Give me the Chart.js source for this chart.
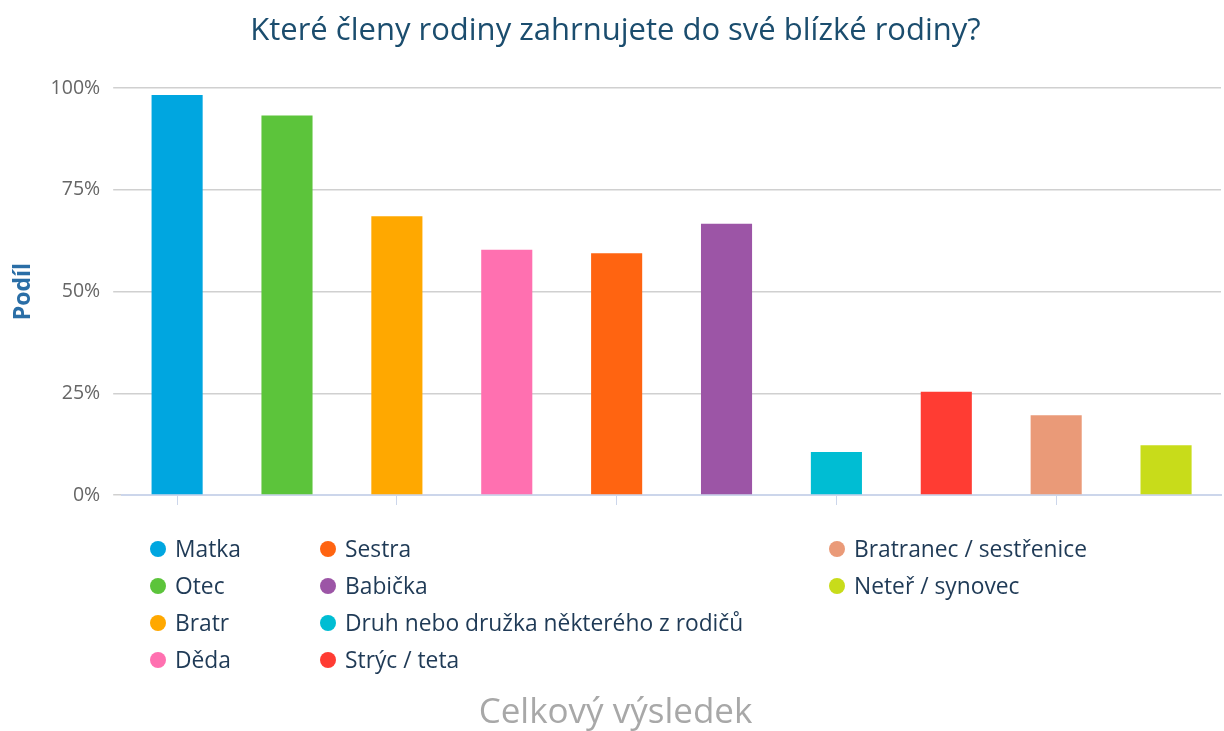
<!DOCTYPE html>
<html>
<head>
<meta charset="utf-8">
<script src="https://cdn.jsdelivr.net/npm/chart.js@4"></script>
<style>
  html, body { margin: 0; padding: 0; background: #fff; }
  #wrap { position: relative; width: 1224px; height: 731px; }
  #legend {
    position: absolute; left: 150px; top: 530px;
    display: grid; grid-auto-flow: column;
    grid-template-rows: repeat(4, 37px);
    grid-template-columns: 170px 509px auto;
    font-family: "Open Sans", sans-serif; font-size: 22.8px; color: #1f3a56;
  }
  #legend div { display: flex; align-items: center; white-space: nowrap; }
  #legend span.dot { width: 16px; height: 16px; border-radius: 50%; margin-right: 9px; display: inline-block; }
</style>
</head>
<body>
<div id="wrap">
  <canvas id="chart" width="1224" height="731"></canvas>
  <div id="legend"></div>
</div>
<script>
const categories = [
    'Matka', 'Otec', 'Bratr', 'Děda', 'Sestra', 'Babička',
    'Druh nebo družka některého z rodičů', 'Strýc / teta',
    'Bratranec / sestřenice', 'Neteř / synovec'
];
const shares = [98.3, 93.3, 68.5, 60.3, 59.4, 66.7, 10.6, 25.4, 19.6, 12.2];
const colors = [
    '#00a6e0', '#5cc43b', '#ffa800', '#ff70b0', '#ff6411',
    '#9c55a6', '#00bdd3', '#ff3c33', '#ea9a78', '#c8dc1a'
];
const yTicks = [0, 25, 50, 75, 100];

const ctx = document.getElementById('chart');

window.chartFamily = new Chart(ctx, {
    type: 'bar',
    data: {
        labels: categories,
        datasets: [{
            label: 'Podíl',
            data: shares,
            backgroundColor: colors,
            barPercentage: 0.465,
            categoryPercentage: 1
        }]
    },
    options: {
        responsive: false,
        animation: false,
        layout: {
            padding: { left: 10, right: 3, top: 0, bottom: 0 }
        },
        plugins: {
            legend: { display: false },
            tooltip: { enabled: false },
            title: {
                display: true,
                text: 'Které členy rodiny zahrnujete do své blízké rodiny?',
                color: '#1b4d6e',
                font: { family: 'Open Sans', size: 31, weight: 'normal', lineHeight: 1.2 },
                padding: { top: 13, bottom: 38 }
            },
            subtitle: {
                display: true,
                position: 'bottom',
                text: 'Celkový výsledek',
                color: '#a8a8a8',
                font: { family: 'Open Sans', size: 35, weight: 'normal', lineHeight: 1.0 },
                padding: { top: 191, bottom: 0 }
            }
        },
        scales: {
            x: {
                offset: true,
                grid: {
                    offset: false,
                    drawOnChartArea: false,
                    drawTicks: true,
                    tickLength: 10,
                    color: (c) => (c.index % 2 === 0 ? '#ccd6eb' : 'rgba(0,0,0,0)')
                },
                border: { color: '#ccd6eb', width: 2 },
                ticks: { display: false }
            },
            y: {
                min: 0,
                max: 100,
                afterBuildTicks: (axis) => { axis.ticks = yTicks.map(v => ({ value: v })); },
                grid: { color: '#d0d0d0', lineWidth: 1.5, tickLength: 9 },
                border: { display: false },
                ticks: {
                    color: '#666',
                    padding: 13,
                    font: { family: 'Open Sans', size: 19.5 },
                    callback: (v) => v + '%'
                },
                title: {
                    display: true,
                    text: 'Podíl',
                    color: '#2a6ea6',
                    font: { family: 'Open Sans', size: 23, weight: 'bold' },
                    padding: { top: 0, bottom: 0 }
                }
            }
        }
    }
});

// legend in columns, four rows each, third column set apart
const legendEl = document.getElementById('legend');
categories.forEach((name, i) => {
    const item = document.createElement('div');
    item.innerHTML = '<span class="dot" style="background:' + colors[i] + '"></span>' + name;
    if (i >= 8) {
        item.style.gridColumn = '3';
        item.style.gridRow = String(i - 7);
    }
    legendEl.appendChild(item);
});
</script>
</body>
</html>
